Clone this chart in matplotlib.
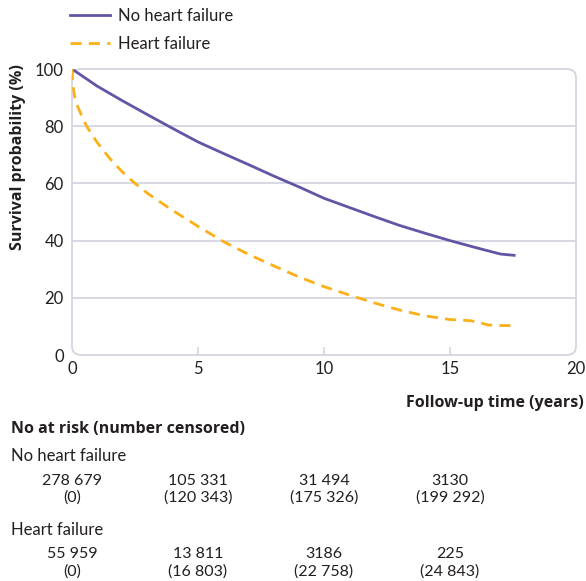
import matplotlib
matplotlib.use("Agg")
import matplotlib.pyplot as plt
from matplotlib.patches import FancyBboxPatch
from matplotlib.lines import Line2D
import matplotlib.transforms as mtransforms

plt.rcParams['font.family'] = ['Lato', 'DejaVu Sans']
BOLD_FAMILY = ['Open Sans', 'DejaVu Sans']

# ---- data ----
t_no_hf = [0, 1, 2, 3, 4, 5, 6, 7, 8, 9, 10, 11, 12, 13, 14, 15, 16, 17, 17.6]
s_no_hf = [100, 94.0, 88.9, 84.0, 79.2, 74.5, 70.5, 66.6, 62.6, 58.8, 54.8,
           51.6, 48.4, 45.3, 42.6, 40.0, 37.6, 35.3, 34.8]

t_hf = [0, 0.02, 0.1, 0.2, 0.4, 0.58, 0.8, 1, 1.5, 2, 2.5, 3, 4, 5, 6, 7, 8,
        9, 10, 11, 12, 13, 14, 15, 15.8, 16.2, 16.5, 17, 17.6]
s_hf = [100, 95.5, 90.5, 87.4, 83.3, 80.0, 77.0, 74.3, 68.7, 64.0, 60.0, 56.5,
        50.5, 45.0, 39.7, 35.2, 31.2, 27.3, 23.9, 21.0, 18.2, 15.7, 13.7, 12.4,
        12.0, 11.3, 10.5, 10.3, 10.3]

series_labels = ["No heart failure", "Heart failure"]
x_ticks = [0, 5, 10, 15, 20]
y_ticks = [0, 20, 40, 60, 80, 100]

risk_times = [0, 5, 10, 15]
no_hf_at_risk = ["278 679", "105 331", "31 494", "3130"]
no_hf_censored = ["(0)", "(120 343)", "(175 326)", "(199 292)"]
hf_at_risk = ["55 959", "13 811", "3186", "225"]
hf_censored = ["(0)", "(16 803)", "(22 758)", "(24 843)"]

# ---- style ----
W, H = 586, 581
purple = "#6454a6"
orange = "#fbb017"
frame_col = "#d3d6e2"
text_col = "#231f20"

fig = plt.figure(figsize=(W / 100, H / 100), dpi=100)
ax_l, ax_r, ax_t, ax_b = 72, 576, 69, 355
ax = fig.add_axes([ax_l / W, 1 - ax_b / H, (ax_r - ax_l) / W, (ax_b - ax_t) / H])

ax.plot(t_no_hf, s_no_hf, color=purple, lw=2.0, solid_capstyle='butt', zorder=3)
ax.plot(t_hf, s_hf, color=orange, lw=2.0, dashes=(4, 2.6), zorder=3)

ax.set_xlim(0, 20)
ax.set_ylim(0, 100)
for s in ax.spines.values():
    s.set_visible(False)

# rounded frame
aw = ax_r - ax_l
ah = ax_b - ax_t
r = 9.0 / aw
frame = FancyBboxPatch((0, 0), 1, 1, boxstyle=f"round,pad=0,rounding_size={r}",
                       mutation_aspect=aw / ah, transform=ax.transAxes,
                       fill=False, edgecolor=frame_col, lw=1.3, clip_on=False, zorder=1)
ax.add_patch(frame)

ax.set_yticks(y_ticks)
ax.set_xticks(x_ticks)
ax.yaxis.grid(True, color=frame_col, lw=1.3)
ax.set_axisbelow(True)
glines = ax.get_ygridlines()
glines[0].set_visible(False)
glines[-1].set_visible(False)

ax.tick_params(axis='y', length=0, pad=6, labelsize=12, labelcolor=text_col)
ax.tick_params(axis='x', direction='in', length=6, width=1.2, color=frame_col,
               pad=4, labelsize=12, labelcolor=text_col)
xt = ax.xaxis.get_major_ticks()
xt[0].tick1line.set_visible(False)
xt[-1].tick1line.set_visible(False)

# legend
handles = [Line2D([], [], color=purple, lw=2.0),
           Line2D([], [], color=orange, lw=2.0, dashes=(4, 2.6))]
fig.legend(handles, series_labels, loc='upper left',
           bbox_to_anchor=(63 / W, 1 - 1 / H), frameon=False, fontsize=12,
           handlelength=2.4, handletextpad=0.5, labelspacing=0.72,
           labelcolor=text_col, borderaxespad=0)

# axis labels
fig.text(18 / W, 1 - 157 / H, "Survival probability (%)", rotation=90,
         ha='center', va='center', fontsize=11.5, fontweight='bold', color=text_col,
         family=BOLD_FAMILY)
fig.text(584 / W, 1 - 403 / H, "Follow-up time (years)", ha='right', va='center',
         fontsize=11.5, fontweight='bold', color=text_col, family=BOLD_FAMILY)

# risk table
fig.text(11 / W, 1 - 429 / H, "No at risk (number censored)", ha='left', va='center',
         fontsize=11.5, fontweight='bold', color=text_col, family=BOLD_FAMILY)
fig.text(11 / W, 1 - 456 / H, series_labels[0], ha='left', va='center',
         fontsize=12, color=text_col)
fig.text(11 / W, 1 - 530 / H, series_labels[1], ha='left', va='center',
         fontsize=12, color=text_col)

blend = mtransforms.blended_transform_factory(ax.transData, fig.transFigure)
rows = [(no_hf_at_risk, 481), (no_hf_censored, 498), (hf_at_risk, 554), (hf_censored, 572)]
for vals, ypx in rows:
    for t, v in zip(risk_times, vals):
        fig.text(t, 1 - ypx / H, v, transform=blend, ha='center', va='center',
                 fontsize=11.5, color=text_col)

fig.savefig("out.png", dpi=100)
